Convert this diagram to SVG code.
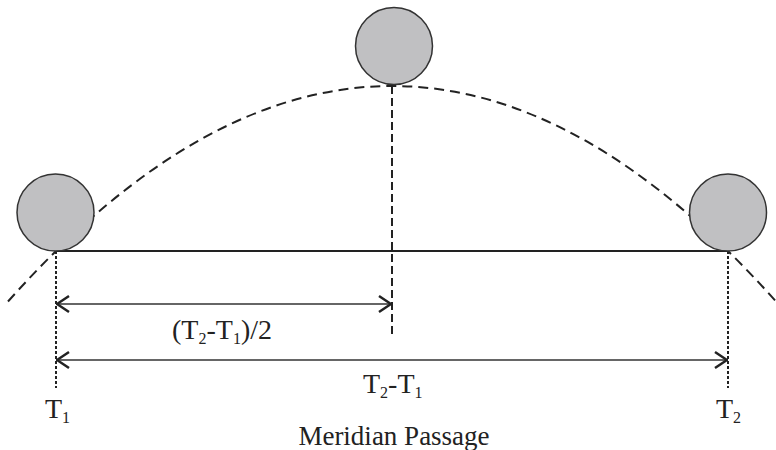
<svg xmlns="http://www.w3.org/2000/svg" width="776" height="450" viewBox="0 0 776 450">
<style>
.sun{fill:#c0c0c2;stroke:#333;stroke-width:1.5}
.curve{fill:none;stroke:#222;stroke-width:2;stroke-dasharray:10 6}
.dot{stroke:#222;stroke-width:2;stroke-dasharray:3 2}
.dash{stroke:#222;stroke-width:2;stroke-dasharray:8 4}
.solid{stroke:#222;stroke-width:2}
.arr{stroke:#333;stroke-width:1.5;marker-start:url(#ah);marker-end:url(#ah)}
text{font-family:"Liberation Serif","DejaVu Serif",serif;fill:#222}
.lbl{font-size:28px}
.sub{font-size:16px}
</style>
<defs>
<marker id="ah" viewBox="0 0 14 20" refX="13" refY="10" markerWidth="14" markerHeight="20" markerUnits="userSpaceOnUse" orient="auto-start-reverse">
<polyline points="1,2 13,10 1,18" fill="none" stroke="#222" stroke-width="2.5"/>
</marker>
</defs>
<g id="connectors">
<path class="curve" d="M8,301.5 Q392,-129.5 776,301.5"/>
<line class="solid" x1="56" y1="251" x2="728" y2="251"/>
<line class="dot" x1="56" y1="251" x2="56" y2="388"/>
<line class="dot" x1="728" y1="251" x2="728" y2="388"/>
<line class="dash" x1="392" y1="86" x2="392" y2="334"/>
<line class="arr" x1="57" y1="304" x2="391" y2="304"/>
<line class="arr" x1="57" y1="360" x2="727" y2="360"/>
</g>
<g id="sun-left"><circle class="sun" cx="55.5" cy="212.5" r="38.5"/></g>
<g id="sun-top"><circle class="sun" cx="394" cy="46" r="38.5"/></g>
<g id="sun-right"><circle class="sun" cx="728" cy="212.5" r="38.5"/></g>
<g id="label-half"><text class="lbl" x="172" y="339">(T<tspan class="sub" dy="5">2</tspan><tspan dy="-5">-T</tspan><tspan class="sub" dy="5">1</tspan><tspan dy="-5">)/2</tspan></text></g>
<g id="label-diff"><text class="lbl" x="363" y="393">T<tspan class="sub" dy="5">2</tspan><tspan dy="-5">-T</tspan><tspan class="sub" dy="5">1</tspan></text></g>
<g id="label-t1"><text class="lbl" x="45" y="418">T<tspan class="sub" dy="5">1</tspan></text></g>
<g id="label-t2"><text class="lbl" x="716" y="418">T<tspan class="sub" dy="5">2</tspan></text></g>
<g id="title"><text class="lbl" x="394" y="445" text-anchor="middle" style="font-size:27px">Meridian Passage</text></g>
</svg>
